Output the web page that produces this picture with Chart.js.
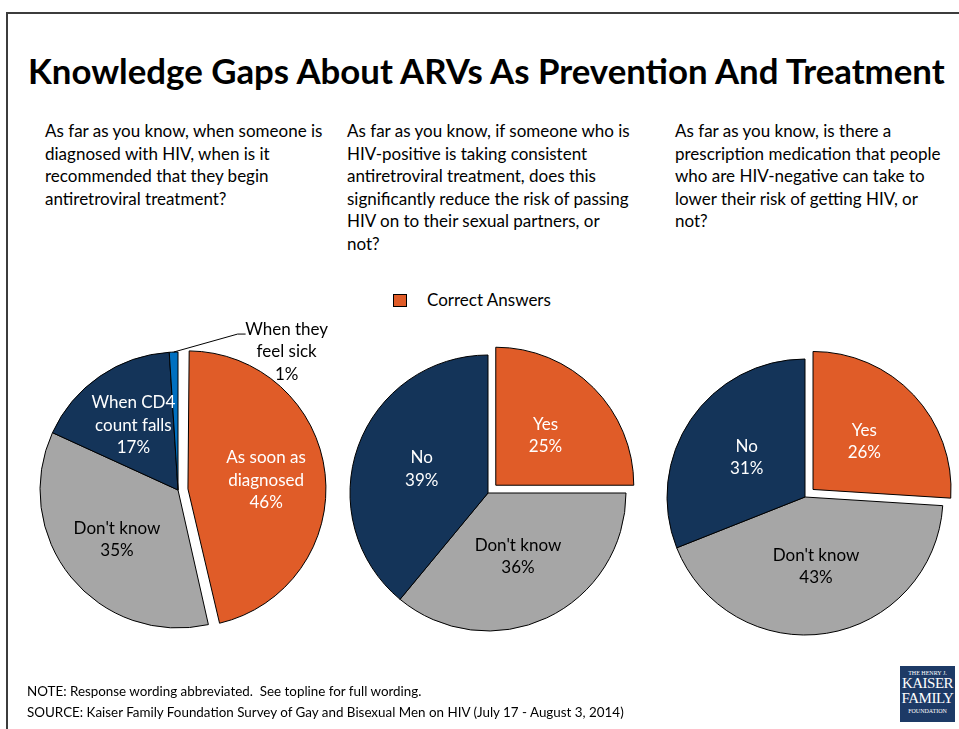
<!DOCTYPE html>
<html>
<head>
<meta charset="utf-8">
<script src="https://cdn.jsdelivr.net/npm/chart.js@4"></script>
<style>
  html, body { margin: 0; padding: 0; background: #fff; overflow: hidden; }
  body { width: 959px; height: 729px; position: relative; font-family: Lato, "Open Sans", sans-serif; color: #000; }
  .frame { position: absolute; left: 6px; top: 12px; width: 960px; height: 730px; border-top: 2px solid #3c3c3c; border-left: 2px solid #3c3c3c; }
  .title { position: absolute; left: 28px; top: 51px; font-size: 34.8px; font-weight: bold; line-height: 40px; white-space: nowrap; }
  .q { position: absolute; top: 120px; font-size: 17px; line-height: 22.5px; white-space: pre-line; }
  .legend { position: absolute; left: 393px; top: 289px; font-size: 17px; line-height: 22px; }
  .legend .box { display: inline-block; width: 12px; height: 11px; background: #E05C28; border: 1px solid #000; vertical-align: -1px; margin-right: 20px; }
  .note { position: absolute; left: 27px; top: 681px; font-size: 13.4px; line-height: 21px; white-space: pre; }
  .logo { position: absolute; left: 900px; top: 666px; width: 55px; height: 56px; background: #1d3a66; color: #fff; font-family: "Liberation Serif", serif; text-align: center; line-height: 1; }
  .logo .s { font-size: 6px; padding-top: 4px; }
  .logo .b { font-size: 15px; letter-spacing: -0.5px; }
  canvas { position: absolute; }
</style>
</head>
<body>
<div class="frame"></div>
<div class="title">Knowledge Gaps About ARVs As Prevention And Treatment</div>
<div class="q" style="left:45px">As far as you know, when someone is
diagnosed with HIV, when is it
recommended that they begin
antiretroviral treatment?</div>
<div class="q" style="left:347px">As far as you know, if someone who is
HIV-positive is taking consistent
antiretroviral treatment, does this
significantly reduce the risk of passing
HIV on to their sexual partners, or
not?</div>
<div class="q" style="left:675px">As far as you know, is there a
prescription medication that people
who are HIV-negative can take to
lower their risk of getting HIV, or
not?</div>
<div class="legend"><span class="box"></span>Correct Answers</div>

<canvas id="pie1" width="330" height="380" style="left:13px;top:300px"></canvas>
<canvas id="pie2" width="330" height="380" style="left:323px;top:303px"></canvas>
<canvas id="pie3" width="330" height="380" style="left:640px;top:307px"></canvas>

<div class="note">NOTE: Response wording abbreviated.  See topline for full wording.
SOURCE: Kaiser Family Foundation Survey of Gay and Bisexual Men on HIV (July 17 - August 3, 2014)</div>
<div class="logo"><div class="s">THE HENRY J.</div><div class="b">KAISER</div><div class="b">FAMILY</div><div class="s" style="padding-top:2px">FOUNDATION</div></div>

<script>
// question 1: when to begin treatment
const q1Labels = ['As soon as\ndiagnosed', "Don't know", 'When CD4\ncount falls', 'When they\nfeel sick'];
const q1Values = [46, 35, 17, 1];
// question 2: does treatment reduce risk of passing HIV
const q2Labels = ['Yes', "Don't know", 'No'];
const q2Values = [25, 36, 39];
// question 3: is there a prevention medication (PrEP)
const q3Labels = ['Yes', "Don't know", 'No'];
const q3Values = [26, 43, 31];

const ORANGE = '#E05C28';
const GRAY = '#A6A6A6';
const NAVY = '#143459';
const BLUE = '#0070C0';

// chart.js v4 moves an arc by a quarter of its offset option and also
// grows its radius for wide slices; undo the growth so all slices match
const radiusGrow = (arc, off) => off * (1 - Math.sin(Math.min(Math.PI, arc.circumference)));

// draws "label / value%" inside each slice, small slices get a leader line
const sliceLabels = {
  id: 'sliceLabels',
  beforeDatasetsDraw(chart) {
    const ds = chart.data.datasets[0];
    chart.getDatasetMeta(0).data.forEach((arc, i) => {
      arc._grow = radiusGrow(arc, (ds.offset[i] || 0) / 4);
      arc.outerRadius -= arc._grow;
    });
  },
  afterDatasetsDraw(chart, args, opts) {
    const ctx = chart.ctx;
    const ds = chart.data.datasets[0];
    const meta = chart.getDatasetMeta(0);
    const total = ds.data.reduce((a, b) => a + b, 0);
    const frac = opts.radius || 0.5;
    ctx.save();
    ctx.font = '17px Lato';
    ctx.textAlign = 'center';
    ctx.textBaseline = 'middle';
    meta.data.forEach((arc, i) => {
      arc.outerRadius += arc._grow;
      const mid = (arc.startAngle + arc.endAngle) / 2;
      const off = (ds.offset[i] || 0) / 4;
      const lines = chart.data.labels[i].split('\n').concat(ds.data[i] + '%');
      const dx = Math.cos(mid), dy = Math.sin(mid);
      if (ds.data[i] / total < 0.03) {
        const px = arc.x + dx * (arc.outerRadius + off);
        const py = arc.y + dy * (arc.outerRadius + off);
        const ex = px + 64, ey = py - 18;
        ctx.strokeStyle = '#000';
        ctx.lineWidth = 1;
        ctx.beginPath();
        ctx.moveTo(px, py);
        ctx.lineTo(ex, ey);
        ctx.lineTo(ex + 8, ey);
        ctx.stroke();
        ctx.fillStyle = '#000';
        lines.forEach((t, k) => ctx.fillText(t, ex + 49, ey - 5 + k * 22.5));
      } else {
        const r = off + arc.outerRadius * frac;
        const cx = arc.x + dx * r, cy = arc.y + dy * r;
        ctx.fillStyle = ds.backgroundColor[i] === GRAY ? '#000' : '#fff';
        lines.forEach((t, k) => ctx.fillText(t, cx, cy + (k - (lines.length - 1) / 2) * 22.5));
      }
    });
    ctx.restore();
  }
};

function makePie(id, labels, values, colors, offsets, labelRadius) {
  return new Chart(document.getElementById(id), {
    type: 'pie',
    data: {
      labels: labels,
      datasets: [{
        data: values,
        backgroundColor: colors,
        borderColor: '#000',
        borderWidth: 1,
        offset: offsets,
        hoverOffset: 0
      }]
    },
    options: {
      responsive: false,
      animation: false,
      radius: 138,
      plugins: {
        legend: { display: false },
        tooltip: { enabled: false },
        sliceLabels: { radius: labelRadius }
      },
      events: []
    },
    plugins: [sliceLabels]
  });
}

makePie('pie1', q1Labels, q1Values, [ORANGE, GRAY, NAVY, BLUE], [40, 0, 0, 0], 0.57);
makePie('pie2', q2Labels, q2Values, [ORANGE, GRAY, NAVY], [44, 0, 0], 0.51);
makePie('pie3', q3Labels, q3Values, [ORANGE, GRAY, NAVY], [44, 0, 0], 0.51);
</script>
</body>
</html>
